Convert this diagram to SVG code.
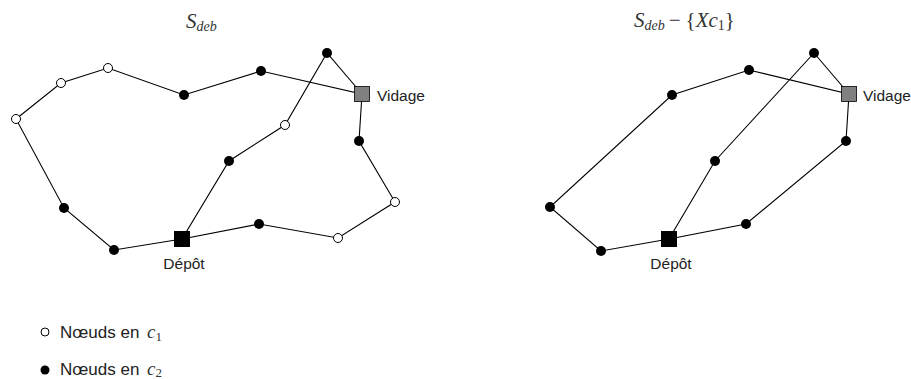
<svg xmlns="http://www.w3.org/2000/svg" width="911" height="379" viewBox="0 0 911 379">
<style>
.e{stroke:#000;stroke-width:1.1;fill:none}
.f{fill:#000}
.o{fill:#fff;stroke:#000;stroke-width:1}
.dep{fill:#000}
.vid{fill:#808080;stroke:#000;stroke-width:0.8}
.lbl{font-family:"Liberation Sans",Arial,sans-serif;font-size:15.5px;fill:#222}
.leg{font-family:"Liberation Sans",Arial,sans-serif;font-size:17px;fill:#222}
.m{font-family:"Liberation Serif","Times New Roman",serif;font-style:italic;fill:#333}
.mr{font-family:"Liberation Serif","Times New Roman",serif;font-style:normal;fill:#333}
.big{font-size:21px}
.sub{font-size:14px}
.lc{font-size:19px}
.ls{font-size:13px}
</style>
<rect width="911" height="379" fill="#fff"/>
<g id="connectors">
<polyline class="e" points="182,239 114,250 64,208 16,119 61,83 108,68 184,95 261,71 362,94 327,53 285,125 229,161 182,239 259,224 338,238 395,202 359,141 362,94"/>
<polyline class="e" points="669,239 601,251 550,207 672,95 749,70 849,94 814,53 715,161 669,239 746,224 846,141 849,94"/>
</g>
<g id="titles">
<text class="m big" x="186" y="28">S<tspan class="sub" dy="3">deb</tspan></text>
<text class="m big" x="634" y="27">S<tspan class="sub" dy="3">deb</tspan><tspan class="mr" dy="-3" dx="4">−</tspan><tspan class="mr" dx="5">{</tspan>Xc<tspan class="mr sub" dy="3">1</tspan><tspan class="mr" dy="-3">}</tspan></text>
</g>
<g id="left-nodes">
<circle id="L1" class="o" cx="16" cy="119" r="4.5"/>
<circle id="L2" class="o" cx="61" cy="83" r="4.5"/>
<circle id="L3" class="o" cx="108" cy="68" r="4.5"/>
<circle id="L4" class="f" cx="184" cy="95" r="5"/>
<circle id="L5" class="f" cx="261" cy="71" r="5"/>
<circle id="L6" class="f" cx="327" cy="53" r="5"/>
<circle id="L7" class="o" cx="285" cy="125" r="4.5"/>
<circle id="L8" class="f" cx="229" cy="161" r="5"/>
<circle id="L9" class="f" cx="359" cy="141" r="5"/>
<circle id="L10" class="o" cx="395" cy="202" r="4.5"/>
<circle id="L11" class="o" cx="338" cy="238" r="4.5"/>
<circle id="L12" class="f" cx="259" cy="224" r="5"/>
<circle id="L13" class="f" cx="114" cy="250" r="5"/>
<circle id="L14" class="f" cx="64" cy="208" r="5"/>
</g>
<g id="left-vidage"><rect class="vid" x="354.5" y="86.5" width="15" height="15"/><text class="lbl" x="377" y="101">Vidage</text></g>
<g id="left-depot"><rect class="dep" x="174" y="231" width="16" height="16"/><text class="lbl" x="184" y="269" text-anchor="middle">Dépôt</text></g>
<g id="right-nodes">
<circle id="R1" class="f" cx="550" cy="207" r="5"/>
<circle id="R2" class="f" cx="672" cy="95" r="5"/>
<circle id="R3" class="f" cx="749" cy="70" r="5"/>
<circle id="R4" class="f" cx="814" cy="53" r="5"/>
<circle id="R5" class="f" cx="715" cy="161" r="5"/>
<circle id="R6" class="f" cx="846" cy="141" r="5"/>
<circle id="R7" class="f" cx="746" cy="224" r="5"/>
<circle id="R8" class="f" cx="601" cy="251" r="5"/>
</g>
<g id="right-vidage"><rect class="vid" x="841.5" y="86.5" width="15" height="15"/><text class="lbl" x="863" y="101">Vidage</text></g>
<g id="right-depot"><rect class="dep" x="661" y="231" width="16" height="16"/><text class="lbl" x="671" y="269" text-anchor="middle">Dépôt</text></g>
<g id="legend">
<circle class="o" cx="45" cy="332" r="4"/>
<text class="leg" x="60" y="338">Nœuds en <tspan class="m lc" x="147">c</tspan><tspan class="mr ls" dy="2.5">1</tspan></text>
<circle class="f" cx="45" cy="370" r="4.5"/>
<text class="leg" x="60" y="375">Nœuds en <tspan class="m lc" x="147">c</tspan><tspan class="mr ls" dy="2">2</tspan></text>
</g>
</svg>
